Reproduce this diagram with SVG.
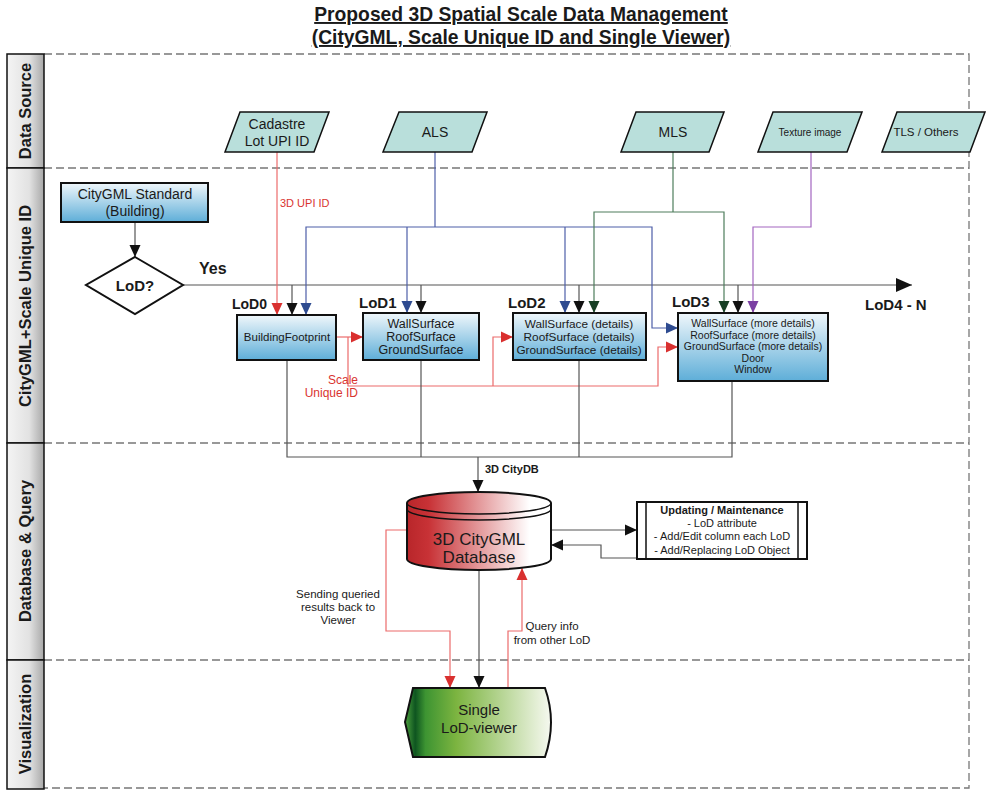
<svg xmlns="http://www.w3.org/2000/svg" width="990" height="792" viewBox="0 0 990 792">
<defs>
<style>
text{font-family:"Liberation Sans",Arial,sans-serif;fill:#1a1a1a}
.title{font-size:19.3px;font-weight:bold;text-decoration:underline;text-anchor:middle}
.lane{font-size:16.5px;font-weight:bold;text-anchor:middle}
.lanebox{fill:url(#gLane);stroke:#111;stroke-width:1.5}
.dash{fill:none;stroke:#777;stroke-width:1.3;stroke-dasharray:8 4}
.para{fill:#b9dfdb;stroke:#111;stroke-width:1.5}
.box{fill:url(#gBlue);stroke:#111;stroke-width:2}
.c{text-anchor:middle}
.b{font-weight:bold}
.red{fill:#d9342f}
.k{fill:none;stroke:#555;stroke-width:1.2}
.r{fill:none;stroke:#ec6b6b;stroke-width:1.2}
.bl{fill:none;stroke:#4d5ea8;stroke-width:1.2}
.gr{fill:none;stroke:#4e7d5c;stroke-width:1.2}
.pu{fill:none;stroke:#a366c0;stroke-width:1.2}
</style>
<linearGradient id="gLane" x1="0" y1="0" x2="1" y2="0">
<stop offset="0" stop-color="#f4f4f4"/><stop offset="0.6" stop-color="#e2e2e2"/><stop offset="1" stop-color="#a8a8a8"/>
</linearGradient>
<linearGradient id="gBlue" x1="0" y1="0" x2="0" y2="1">
<stop offset="0" stop-color="#f0f7fb"/><stop offset="1" stop-color="#5eaed8"/>
</linearGradient>
<linearGradient id="gRed" x1="0" y1="0" x2="1" y2="0">
<stop offset="0" stop-color="#b8262a"/><stop offset="0.15" stop-color="#c83236"/><stop offset="0.85" stop-color="#ffffff"/><stop offset="1" stop-color="#ffffff"/>
</linearGradient>
<linearGradient id="gGreen" x1="0" y1="0" x2="1" y2="0">
<stop offset="0" stop-color="#4ea23e"/><stop offset="0.07" stop-color="#0e5520"/><stop offset="0.14" stop-color="#3d9432"/><stop offset="0.35" stop-color="#7cb440"/><stop offset="1" stop-color="#f6f9f0"/>
</linearGradient>
<marker id="aK" markerUnits="userSpaceOnUse" markerWidth="12" markerHeight="12" refX="12" refY="6" orient="auto"><path d="M0,0.5 L12,6 L0,11.5 z" fill="#111"/></marker>
<marker id="aKL" markerUnits="userSpaceOnUse" markerWidth="16" markerHeight="14" refX="16" refY="7" orient="auto"><path d="M0,0 L16,7 L0,14 z" fill="#111"/></marker>
<marker id="aR" markerUnits="userSpaceOnUse" markerWidth="12" markerHeight="12" refX="12" refY="6" orient="auto"><path d="M0,0.5 L12,6 L0,11.5 z" fill="#d9302f"/></marker>
<marker id="aB" markerUnits="userSpaceOnUse" markerWidth="12" markerHeight="12" refX="12" refY="6" orient="auto"><path d="M0,0.5 L12,6 L0,11.5 z" fill="#2e4b90"/></marker>
<marker id="aG" markerUnits="userSpaceOnUse" markerWidth="12" markerHeight="12" refX="12" refY="6" orient="auto"><path d="M0,0.5 L12,6 L0,11.5 z" fill="#173f24"/></marker>
<marker id="aP" markerUnits="userSpaceOnUse" markerWidth="12" markerHeight="12" refX="12" refY="6" orient="auto"><path d="M0,0.5 L12,6 L0,11.5 z" fill="#7b3fa3"/></marker>
</defs>
<rect width="990" height="792" fill="#fff"/>

<g id="title">
<text class="title" x="521" y="21">Proposed 3D Spatial Scale Data Management </text>
<text class="title" x="521" y="44">(CityGML, Scale Unique ID and Single Viewer)</text>
</g>

<g id="lanes">
<path class="dash" d="M44 54 H969 V788 H44 M44 168 H969 M44 443 H969 M44 660 H969"/>
<rect class="lanebox" x="7" y="54" width="37" height="114"/>
<rect class="lanebox" x="7" y="168" width="37" height="275"/>
<rect class="lanebox" x="7" y="443" width="37" height="217"/>
<rect class="lanebox" x="7" y="660" width="37" height="129"/>
<text class="lane" transform="translate(25,111) rotate(-90)" dy="0.35em">Data Source</text>
<text class="lane" transform="translate(25,306) rotate(-90)" dy="0.35em">CityGML+Scale Unique ID</text>
<text class="lane" transform="translate(25,551) rotate(-90)" dy="0.35em">Database &amp; Query</text>
<text class="lane" transform="translate(25,724) rotate(-90)" dy="0.35em">Visualization</text>
</g>

<g id="connectors">
<path class="k" d="M135 222 V257" marker-end="url(#aK)"/>
<path class="k" d="M183 285 H912" marker-end="url(#aKL)"/>
<path class="k" d="M292 285 V315" marker-end="url(#aK)"/>
<path class="k" d="M421 285 V313" marker-end="url(#aK)"/>
<path class="k" d="M579 285 V313" marker-end="url(#aK)"/>
<path class="k" d="M738 285 V313" marker-end="url(#aK)"/>
<path class="r" d="M277 152 V315" stroke="#e04545" marker-end="url(#aR)"/>
<path class="bl" d="M435 152 V227"/>
<path class="bl" d="M565 227 H306 V315" marker-end="url(#aB)"/>
<path class="bl" d="M407 227 V313" marker-end="url(#aB)"/>
<path class="bl" d="M565 227 V313" stroke="#8f98cc" marker-end="url(#aB)"/>
<path class="bl" d="M565 227 H652 V328 H678" marker-end="url(#aB)"/>
<path class="gr" d="M673 152 V212"/>
<path class="gr" d="M673 212 H594 V313" marker-end="url(#aG)"/>
<path class="gr" d="M673 212 H724 V313" marker-end="url(#aG)"/>
<path class="pu" d="M811 152 V227 H753 V313" marker-end="url(#aP)"/>
<path class="r" d="M336 337 H363" stroke-width="2" stroke="#d9302f" marker-end="url(#aR)"/>
<path class="r" d="M348 337 V386 H658 V347 H678" marker-end="url(#aR)"/>
<path class="r" d="M493 386 V337 H513" marker-end="url(#aR)"/>
<path class="k" d="M287 360 V457 H732 V381"/>
<path class="k" d="M421 360 V457"/>
<path class="k" d="M579 360 V457"/>
<path class="k" d="M478 457 V492" marker-end="url(#aK)"/>
<path class="k" d="M551 530 H637" marker-end="url(#aK)"/>
<path class="k" d="M637 558 H601 V545 H551" marker-end="url(#aK)"/>
<path class="r" d="M407 530 H386 V631 H450 V688" marker-end="url(#aR)"/>
<path class="k" d="M479 570 V688" marker-end="url(#aK)"/>
<path class="r" d="M508 688 V631 H522 V568" marker-end="url(#aR)"/>
<text class="red" x="280" y="207" font-size="11">3D UPI ID</text>
<text class="red" x="358" y="384" font-size="12" text-anchor="end">Scale</text>
<text class="red" x="358" y="397" font-size="12" text-anchor="end">Unique ID</text>
<text class="b" x="199" y="274" font-size="16">Yes</text>
<text class="b" x="485" y="473" font-size="11">3D CityDB</text>
<text class="c" x="338" y="598" font-size="11.5">Sending queried</text>
<text class="c" x="338" y="611" font-size="11.5">results back to</text>
<text class="c" x="338" y="624" font-size="11.5">Viewer</text>
<text class="c" x="552" y="630" font-size="11.5">Query info</text>
<text class="c" x="552" y="644" font-size="11.5">from other LoD</text>
</g>

<g id="cadastre">
<polygon class="para" points="240,112 329,112 314,152 225,152"/>
<text class="c" x="277" y="129" font-size="14">Cadastre</text>
<text class="c" x="277" y="146" font-size="14">Lot UPI ID</text>
</g>
<g id="als">
<polygon class="para" points="399,112 487,112 472,152 383,152"/>
<text class="c" x="435" y="137" font-size="14">ALS</text>
</g>
<g id="mls">
<polygon class="para" points="636,112 724,112 709,152 621,152"/>
<text class="c" x="673" y="137" font-size="14">MLS</text>
</g>
<g id="texture">
<polygon class="para" points="773,112 862,112 847,152 758,152"/>
<text class="c" x="810" y="136" font-size="10">Texture image</text>
</g>
<g id="tls">
<polygon class="para" points="897,112 985,112 970,152 882,152"/>
<text class="c" x="926" y="136" font-size="11.5">TLS / Others</text>
</g>

<g id="citygml-standard">
<rect class="box" x="61" y="183" width="147" height="39"/>
<text class="c" x="135" y="199" font-size="14">CityGML Standard</text>
<text class="c" x="135" y="216" font-size="14">(Building)</text>
</g>
<g id="lod-decision">
<polygon points="135,257 183,285 135,314 86,285" fill="#fff" stroke="#111" stroke-width="2"/>
<text class="c b" x="135" y="291" font-size="15">LoD?</text>
</g>

<g id="lod0">
<text class="b" x="232" y="309" font-size="14">LoD0</text>
<rect class="box" x="237" y="315" width="99" height="45"/>
<text class="c" x="287" y="341" font-size="11.5">BuildingFootprint</text>
</g>
<g id="lod1">
<text class="b" x="359" y="308" font-size="15">LoD1</text>
<rect class="box" x="363" y="313" width="116" height="47"/>
<text class="c" x="421" y="328" font-size="12.5">WallSurface</text>
<text class="c" x="421" y="341" font-size="12.5">RoofSurface</text>
<text class="c" x="421" y="354" font-size="12.5">GroundSurface</text>
</g>
<g id="lod2">
<text class="b" x="508" y="308" font-size="15">LoD2</text>
<rect class="box" x="513" y="313" width="133" height="47"/>
<text class="c" x="579" y="328" font-size="11.8">WallSurface (details)</text>
<text class="c" x="579" y="341" font-size="11.8">RoofSurface (details)</text>
<text class="c" x="579" y="354" font-size="11.8">GroundSurface (details)</text>
</g>
<g id="lod3">
<text class="b" x="672" y="307" font-size="15">LoD3</text>
<rect class="box" x="678" y="313" width="150" height="68"/>
<text class="c" x="753" y="327" font-size="10.5">WallSurface (more details)</text>
<text class="c" x="753" y="338.5" font-size="10.5">RoofSurface (more details)</text>
<text class="c" x="753" y="350" font-size="10.5">GroundSurface (more details)</text>
<text class="c" x="753" y="361.5" font-size="10.5">Door</text>
<text class="c" x="753" y="373" font-size="10.5">Window</text>
</g>
<g id="lod4">
<text class="b" x="865" y="310" font-size="15">LoD4 - N</text>
</g>

<g id="database">
<path d="M407 503 A72 11 0 0 1 551 503 V559 A72 11 0 0 1 407 559 Z" fill="url(#gRed)" stroke="#111" stroke-width="2"/>
<path d="M407 503 A72 11 0 0 0 551 503" fill="none" stroke="#111" stroke-width="1.5"/>
<path d="M407 509 A72 11 0 0 0 551 509" fill="none" stroke="#111" stroke-width="1.5"/>
<text class="c" x="479" y="545" font-size="17">3D CityGML</text>
<text class="c" x="479" y="563" font-size="17">Database</text>
</g>

<g id="update">
<rect x="637" y="502" width="170" height="57" fill="#fff" stroke="#111" stroke-width="2"/>
<path d="M646 502 V559 M798 502 V559" stroke="#111" stroke-width="1.5"/>
<text class="c b" x="722" y="514" font-size="11">Updating / Maintenance</text>
<text class="c" x="722" y="527" font-size="11">- LoD attribute</text>
<text class="c" x="722" y="540" font-size="11">- Add/Edit column each LoD</text>
<text class="c" x="722" y="554" font-size="11">- Add/Replacing LoD Object</text>
</g>

<g id="viewer">
<path d="M405 722 L413 688 H545 Q557 722 545 757 H413 Z" fill="url(#gGreen)" stroke="#111" stroke-width="2"/>
<text class="c" x="479" y="715" font-size="15">Single</text>
<text class="c" x="479" y="733" font-size="15">LoD-viewer</text>
</g>
</svg>
